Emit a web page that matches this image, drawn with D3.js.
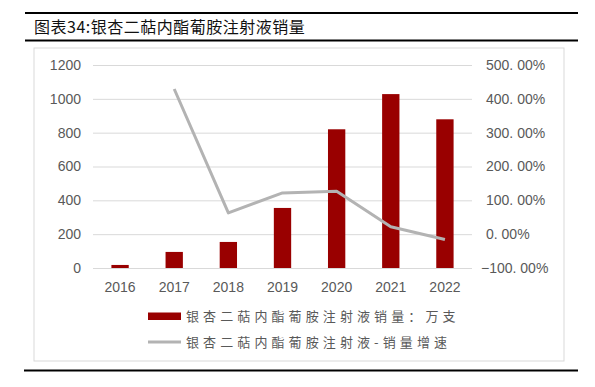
<!DOCTYPE html>
<html><head><meta charset="utf-8">
<script src="https://cdn.jsdelivr.net/npm/d3@7/dist/d3.min.js"></script>
<style>body{margin:0;background:#fff}svg{display:block}</style>
</head><body>
<script>
const title = "图表34:银杏二萜内酯葡胺注射液销量";
const categories = ["2016","2017","2018","2019","2020","2021","2022"];
const salesValues = [18, 95, 154, 355, 820, 1028, 879];
const growthValues = [null, 429, 63, 122, 127, 22, -16];
const leftTicks = [0,200,400,600,800,1000,1200];
const rightTicks = [-100,0,100,200,300,400,500];
const barLegend = "银杏二萜内酯葡胺注射液销量：万支";
const lineLegend = "银杏二萜内酯葡胺注射液-销量增速";

const W = 595, H = 387;
const svg = d3.select("body").append("svg").attr("width", W).attr("height", H);
const cjk = "'Noto Sans CJK SC', sans-serif";

// frame lines
svg.append("line").attr("x1",25).attr("x2",578).attr("y1",13).attr("y2",13).attr("stroke","#000").attr("stroke-width",2.2);
svg.append("line").attr("x1",25).attr("x2",578).attr("y1",40.5).attr("y2",40.5).attr("stroke","#000").attr("stroke-width",2.2);
svg.append("line").attr("x1",24).attr("x2",578).attr("y1",370.5).attr("y2",370.5).attr("stroke","#000").attr("stroke-width",2.2);
svg.append("rect").attr("x",34).attr("y",48).attr("width",530).attr("height",313)
  .attr("fill","none").attr("stroke","#d9d9d9").attr("stroke-width",1);

svg.append("text").attr("x",34).attr("y",33).attr("font-family",cjk).attr("font-size",16)
  .attr("letter-spacing",0.5).attr("fill","#111").text(title);

const x = d3.scaleBand().domain(categories).range([93, 472]).paddingInner(0.68).paddingOuter(0.34);
const yL = d3.scaleLinear().domain([0,1200]).range([268, 65]);
const yR = d3.scaleLinear().domain([-100,500]).range([268, 65]);

// grid
svg.append("g").selectAll("line").data(leftTicks).join("line")
  .attr("x1",93).attr("x2",472).attr("y1",d=>yL(d)+0.5).attr("y2",d=>yL(d)+0.5)
  .attr("stroke","#d9d9d9").attr("stroke-width",1);

// left axis
const gl = svg.append("g").attr("transform","translate(81,0)")
  .call(d3.axisLeft(yL).tickValues(leftTicks).tickSize(0).tickPadding(0).tickFormat(d3.format("d")));
gl.select(".domain").remove();
gl.selectAll("text").attr("font-family","'Liberation Sans', Arial, sans-serif").attr("font-size",14).attr("fill","#595959");

// right axis
const gr = svg.append("g").attr("transform","translate(486,0)")
  .call(d3.axisRight(yR).tickValues(rightTicks).tickSize(0).tickPadding(0)
    .tickFormat(d => d3.format(".2f")(d).replace(".", ". ") + "%"));
gr.select(".domain").remove();
gr.selectAll("text").attr("font-family","'Liberation Sans', Arial, sans-serif").attr("font-size",14).attr("fill","#595959")
  .attr("x", d => d < 0 ? -5 : 0);

// x axis
const gx = svg.append("g").attr("transform","translate(0,276)")
  .call(d3.axisBottom(x).tickSize(0).tickPadding(6));
gx.select(".domain").remove();
gx.selectAll("text").attr("font-family","'Liberation Sans', Arial, sans-serif").attr("font-size",14).attr("fill","#595959");

// bars
svg.append("g").selectAll("rect").data(categories).join("rect")
  .attr("x", d => x(d)).attr("width", x.bandwidth())
  .attr("y", (d,i) => yL(salesValues[i])).attr("height", (d,i) => yL(0) - yL(salesValues[i]))
  .attr("fill","#990000");

// line
const pts = categories.map((c,i)=>[c, growthValues[i]]).filter(p=>p[1]!==null);
svg.append("path").datum(pts)
  .attr("d", d3.line().x(p => x(p[0]) + x.bandwidth()/2).y(p => yR(p[1])))
  .attr("fill","none").attr("stroke","#b3b3b3").attr("stroke-width",3).attr("stroke-linejoin","round");

// legend
svg.append("rect").attr("x",148).attr("y",312.5).attr("width",33).attr("height",7.5).attr("fill","#990000");
svg.append("text").attr("x",186).attr("y",321).attr("font-family",cjk).attr("font-size",13)
  .attr("letter-spacing",4.1).attr("fill","#595959").text(barLegend);
svg.append("line").attr("x1",148).attr("x2",181).attr("y1",342).attr("y2",342).attr("stroke","#b3b3b3").attr("stroke-width",3);
svg.append("text").attr("x",186).attr("y",347).attr("font-family",cjk).attr("font-size",13)
  .attr("letter-spacing",4.1).attr("fill","#595959").text(lineLegend);
</script>
</body></html>
